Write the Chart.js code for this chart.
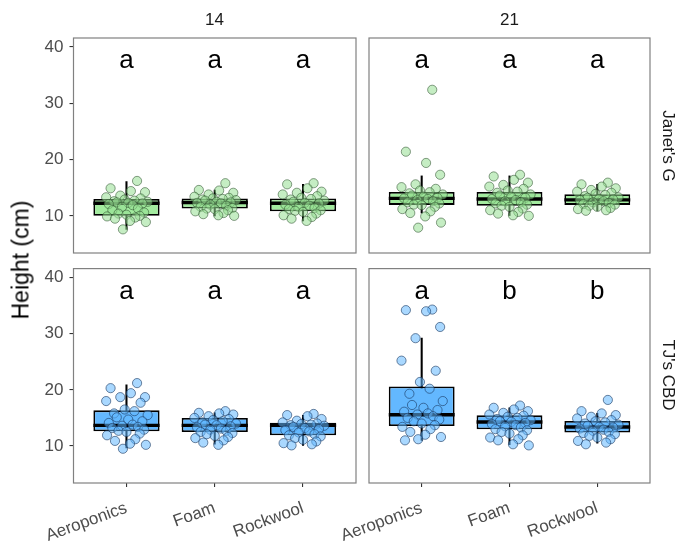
<!DOCTYPE html>
<html>
<head>
<meta charset="utf-8">
<script src="https://cdn.jsdelivr.net/npm/chart.js@4.4.1/dist/chart.umd.min.js"></script>
<style>
body { margin: 0; background: #fff; width: 694px; height: 552px; position: relative; overflow: hidden; font-family: "Liberation Sans", Arial, sans-serif; }
.p { position: absolute; }
.t { position: absolute; color: #1a1a1a; font-size: 17px; white-space: nowrap; transform: translate(-50%, -50%); }
</style>
</head>
<body>
<div class="p" style="left:0;top:28px;width:362px;height:235px"><canvas id="jg14"></canvas></div>
<div class="p" style="left:362px;top:28px;width:332px;height:235px"><canvas id="jg21"></canvas></div>
<div class="p" style="left:0;top:263px;width:362px;height:289px"><canvas id="tj14"></canvas></div>
<div class="p" style="left:282px;top:263px;width:412px;height:289px"><canvas id="tj21"></canvas></div>

<div class="t" style="left:214.5px;top:20px">14</div>
<div class="t" style="left:509.5px;top:20px">21</div>
<div class="t" style="left:668px;top:145.5px;transform:translate(-50%,-50%) rotate(90deg)">Janet's G</div>
<div class="t" style="left:668px;top:375px;transform:translate(-50%,-50%) rotate(90deg)">TJ's CBD</div>
<div class="t" style="left:21px;top:260px;font-size:23px;color:#000;transform:translate(-50%,-50%) rotate(-90deg)">Height (cm)</div>

<script>
// categories and axis ticks
const categories = ['Aeroponics', 'Foam', 'Rockwool'];
const yTicks = [10, 20, 30, 40];
const yMin = 3.4, yMax = 41.6;
const letterY = 36.2;

// box stats per category: [lower whisker, q1, median, q3, upper whisker]
const statsJG14 = [[7.6, 10.0, 12.25, 13.0, 16.1], [10.0, 11.3, 12.36, 13.07, 14.6], [9.1, 10.8, 12.25, 13.1, 15.6]];
const statsJG21 = [[10.5, 11.95, 13.1, 14.26, 17.1], [10.05, 11.78, 13.0, 14.26, 17.1], [10.9, 11.95, 12.84, 13.85, 15.6]];
const statsTJ14 = [[9.65, 12.6, 13.67, 16.34, 20.9], [10.3, 12.5, 13.67, 14.97, 15.9], [10.1, 11.9, 13.7, 14.15, 15.45]];
const statsTJ21 = [[11.0, 13.55, 15.57, 20.6, 29.2], [10.25, 12.96, 14.27, 15.45, 16.8], [10.5, 12.38, 13.37, 14.44, 15.8]];

// significance letters
const lettersJG14 = ['a', 'a', 'a'];
const lettersJG21 = ['a', 'a', 'a'];
const lettersTJ14 = ['a', 'a', 'a'];
const lettersTJ21 = ['a', 'b', 'b'];

// individual plant heights (cm)
const jg14Aero = [16.2, 14.9, 14.4, 14.2, 13.6, 13.3, 13.1, 12.9, 12.7, 12.6, 12.5, 12.4, 12.3, 12.2, 12.1, 11.9, 11.6, 11.3, 11.0, 10.6, 10.4, 10.2, 10.0, 9.9, 9.7, 9.5, 9.1, 8.9, 7.6];
const jg14Foam = [15.8, 14.6, 14.5, 14.1, 13.8, 13.4, 13.2, 13.1, 13.0, 12.9, 12.8, 12.7, 12.5, 12.4, 12.3, 12.2, 12.0, 11.8, 11.6, 11.4, 11.3, 11.2, 11.0, 10.8, 10.5, 10.3, 10.1, 10.0];
const jg14Rock = [15.8, 15.6, 14.9, 14.3, 14.1, 13.8, 13.5, 13.2, 13.0, 12.9, 12.7, 12.5, 12.3, 12.2, 12.0, 11.8, 11.6, 11.4, 11.2, 11.0, 10.9, 10.7, 10.4, 10.1, 9.8, 9.5, 9.1];
const jg21Aero = [32.4, 21.4, 19.4, 17.3, 15.6, 15.1, 14.8, 14.5, 14.2, 14.0, 13.8, 13.6, 13.4, 13.2, 13.1, 13.0, 12.8, 12.6, 12.4, 12.2, 12.0, 11.9, 11.6, 11.2, 10.8, 10.5, 9.9, 8.8, 7.9];
const jg21Foam = [17.3, 17.0, 16.4, 15.9, 15.5, 15.2, 14.8, 14.5, 14.3, 14.1, 13.8, 13.6, 13.4, 13.2, 13.0, 12.8, 12.6, 12.4, 12.2, 12.0, 11.8, 11.6, 11.3, 11.0, 10.7, 10.4, 10.1, 10.0];
const jg21Rock = [15.9, 15.6, 15.2, 14.9, 14.6, 14.3, 14.1, 13.9, 13.7, 13.5, 13.3, 13.2, 13.0, 12.9, 12.8, 12.6, 12.4, 12.3, 12.1, 12.0, 11.8, 11.6, 11.4, 11.2, 11.0, 10.9];
const tj14Aero = [21.2, 20.3, 19.4, 18.7, 18.7, 18.0, 17.7, 16.5, 16.2, 15.8, 15.5, 15.1, 14.7, 14.4, 14.1, 13.8, 13.6, 13.4, 13.2, 12.9, 12.7, 12.5, 12.2, 11.9, 11.2, 10.9, 10.4, 10.2, 9.5];
const tj14Foam = [16.2, 15.9, 15.8, 15.6, 15.3, 15.0, 14.8, 14.6, 14.4, 14.2, 14.0, 13.8, 13.7, 13.5, 13.3, 13.1, 12.9, 12.7, 12.5, 12.3, 12.1, 11.8, 11.6, 11.4, 11.0, 10.6, 10.2];
const tj14Rock = [15.7, 15.5, 15.3, 14.8, 14.5, 14.2, 14.0, 13.9, 13.8, 13.7, 13.6, 13.4, 13.2, 13.0, 12.8, 12.6, 12.4, 12.1, 11.9, 11.7, 11.4, 11.1, 10.8, 10.5, 10.3, 10.1];
const tj21Aero = [34.3, 34.2, 34.0, 31.2, 29.2, 25.2, 23.4, 21.4, 20.2, 19.3, 18.0, 17.3, 16.8, 16.4, 16.1, 15.8, 15.6, 15.3, 15.0, 14.7, 14.4, 14.0, 13.7, 13.4, 13.0, 12.5, 12.0, 11.6, 11.2, 11.0];
const tj21Foam = [17.2, 16.8, 16.5, 16.2, 15.9, 15.6, 15.4, 15.2, 15.0, 14.8, 14.6, 14.4, 14.3, 14.1, 13.9, 13.7, 13.5, 13.3, 13.0, 12.8, 12.5, 12.2, 11.9, 11.5, 11.2, 11.0, 10.3, 10.1];
const tj21Rock = [18.2, 16.2, 15.8, 15.5, 15.2, 14.9, 14.6, 14.4, 14.2, 14.0, 13.8, 13.6, 13.4, 13.3, 13.1, 12.9, 12.7, 12.5, 12.3, 12.1, 11.8, 11.5, 11.2, 10.9, 10.6, 10.3];

// horizontal jitter (category units), fixed list reused for each group
const jitter = [0.12, -0.18, 0.05, 0.21, -0.07, -0.23, 0.16, -0.02, 0.09, -0.14, 0.24, -0.11, 0.02, 0.18, -0.2, 0.07, -0.05, 0.13, -0.16, 0.2, -0.09, 0.0, 0.15, -0.22, 0.1, -0.13, 0.04, 0.22, -0.04, -0.19];

Chart.defaults.font.family = '"Liberation Sans", Arial, sans-serif';

const green = { box: '#a3eb9f', pt: 'rgba(150, 222, 146, 0.55)', edge: 'rgba(45, 80, 45, 0.55)' };
const blue = { box: '#63b8ff', pt: 'rgba(99, 184, 255, 0.55)', edge: 'rgba(25, 55, 95, 0.6)' };

// panel border + letters
const panelDeco = {
    id: 'panelDeco',
    afterDatasetsDraw(chart, args, opts) {
        const { ctx, chartArea: a, scales } = chart;
        ctx.save();
        ctx.strokeStyle = '#808080';
        ctx.lineWidth = 1.2;
        ctx.strokeRect(a.left, a.top, a.right - a.left, a.bottom - a.top);
        ctx.fillStyle = '#000';
        ctx.font = '26px "Liberation Sans", Arial, sans-serif';
        ctx.textAlign = 'center';
        ctx.textBaseline = 'alphabetic';
        opts.letters.forEach((l, i) => {
            ctx.fillText(l, scales.x.getPixelForValue(i), scales.y.getPixelForValue(letterY));
        });
        ctx.restore();
    }
};

function makePanel(id, stats, groups, letters, col, showX, showY, pad) {
    const pts = [];
    groups.forEach((arr, i) => arr.forEach((v, k) => pts.push({ x: i + jitter[k % jitter.length], y: v })));

    new Chart(document.getElementById(id), {
        type: 'bar',
        data: {
            datasets: [
                {
                    type: 'scatter', data: pts, order: 0,
                    backgroundColor: col.pt, borderColor: col.edge, borderWidth: 1, pointRadius: 4.6
                },
                {
                    type: 'scatter', data: stats.map((s, i) => ({ x: i, y: s[2] })), order: 1,
                    pointStyle: 'line', borderColor: '#000', borderWidth: 3.4,
                    pointRadius: c => c.chart.scales.x.getPixelForValue(0.375) - c.chart.scales.x.getPixelForValue(0)
                },
                {
                    data: stats.map((s, i) => ({ x: i, y: [s[1], s[3]] })), order: 2, grouped: false,
                    backgroundColor: col.box, borderColor: '#000', borderWidth: 1.8, borderSkipped: false,
                    barPercentage: 0.75, categoryPercentage: 1
                },
                {
                    data: stats.map((s, i) => ({ x: i, y: [s[0], s[4]] })), order: 3, grouped: false,
                    backgroundColor: '#000', barThickness: 1.4
                }
            ]
        },
        options: {
            responsive: true,
            maintainAspectRatio: false,
            animation: false,
            layout: { padding: pad },
            plugins: { legend: { display: false }, tooltip: { enabled: false }, panelDeco: { letters: letters } },
            scales: {
                x: {
                    type: 'linear', min: -0.6, max: 2.6, offset: false, display: showX,
                    afterBuildTicks: s => { s.ticks = categories.map((c, i) => ({ value: i })); },
                    afterFit: s => { s.height = showX ? 69 : 0; s.paddingLeft = 0; s.paddingRight = 0; },
                    ticks: { callback: v => categories[v], color: '#4d4d4d', font: { size: 17 }, minRotation: 20, maxRotation: 20, autoSkip: false, padding: 11 },
                    grid: { drawOnChartArea: false, offset: false, tickLength: 4, color: '#333', lineWidth: 1.1 },
                    border: { display: false }
                },
                y: {
                    min: yMin, max: yMax, display: showY,
                    afterBuildTicks: s => { s.ticks = yTicks.map(v => ({ value: v })); },
                    afterFit: s => { s.width = showY ? 73.5 : 0; s.paddingTop = 0; s.paddingBottom = 0; },
                    ticks: { color: '#4d4d4d', font: { size: 17 }, padding: 6 },
                    grid: { drawOnChartArea: false, tickLength: 4, color: '#333', lineWidth: 1.1 },
                    border: { display: false }
                }
            }
        },
        plugins: [panelDeco]
    });
}

makePanel('jg14', statsJG14, [jg14Aero, jg14Foam, jg14Rock], lettersJG14, green, false, true, { top: 10, right: 6, bottom: 10, left: 0 });
makePanel('jg21', statsJG21, [jg21Aero, jg21Foam, jg21Rock], lettersJG21, green, false, false, { top: 10, right: 44, bottom: 10, left: 7 });
makePanel('tj14', statsTJ14, [tj14Aero, tj14Foam, tj14Rock], lettersTJ14, blue, true, true, { top: 4, right: 6, bottom: 0, left: 0 });
makePanel('tj21', statsTJ21, [tj21Aero, tj21Foam, tj21Rock], lettersTJ21, blue, true, false, { top: 4, right: 44, bottom: 0, left: 87 });
</script>
</body>
</html>
